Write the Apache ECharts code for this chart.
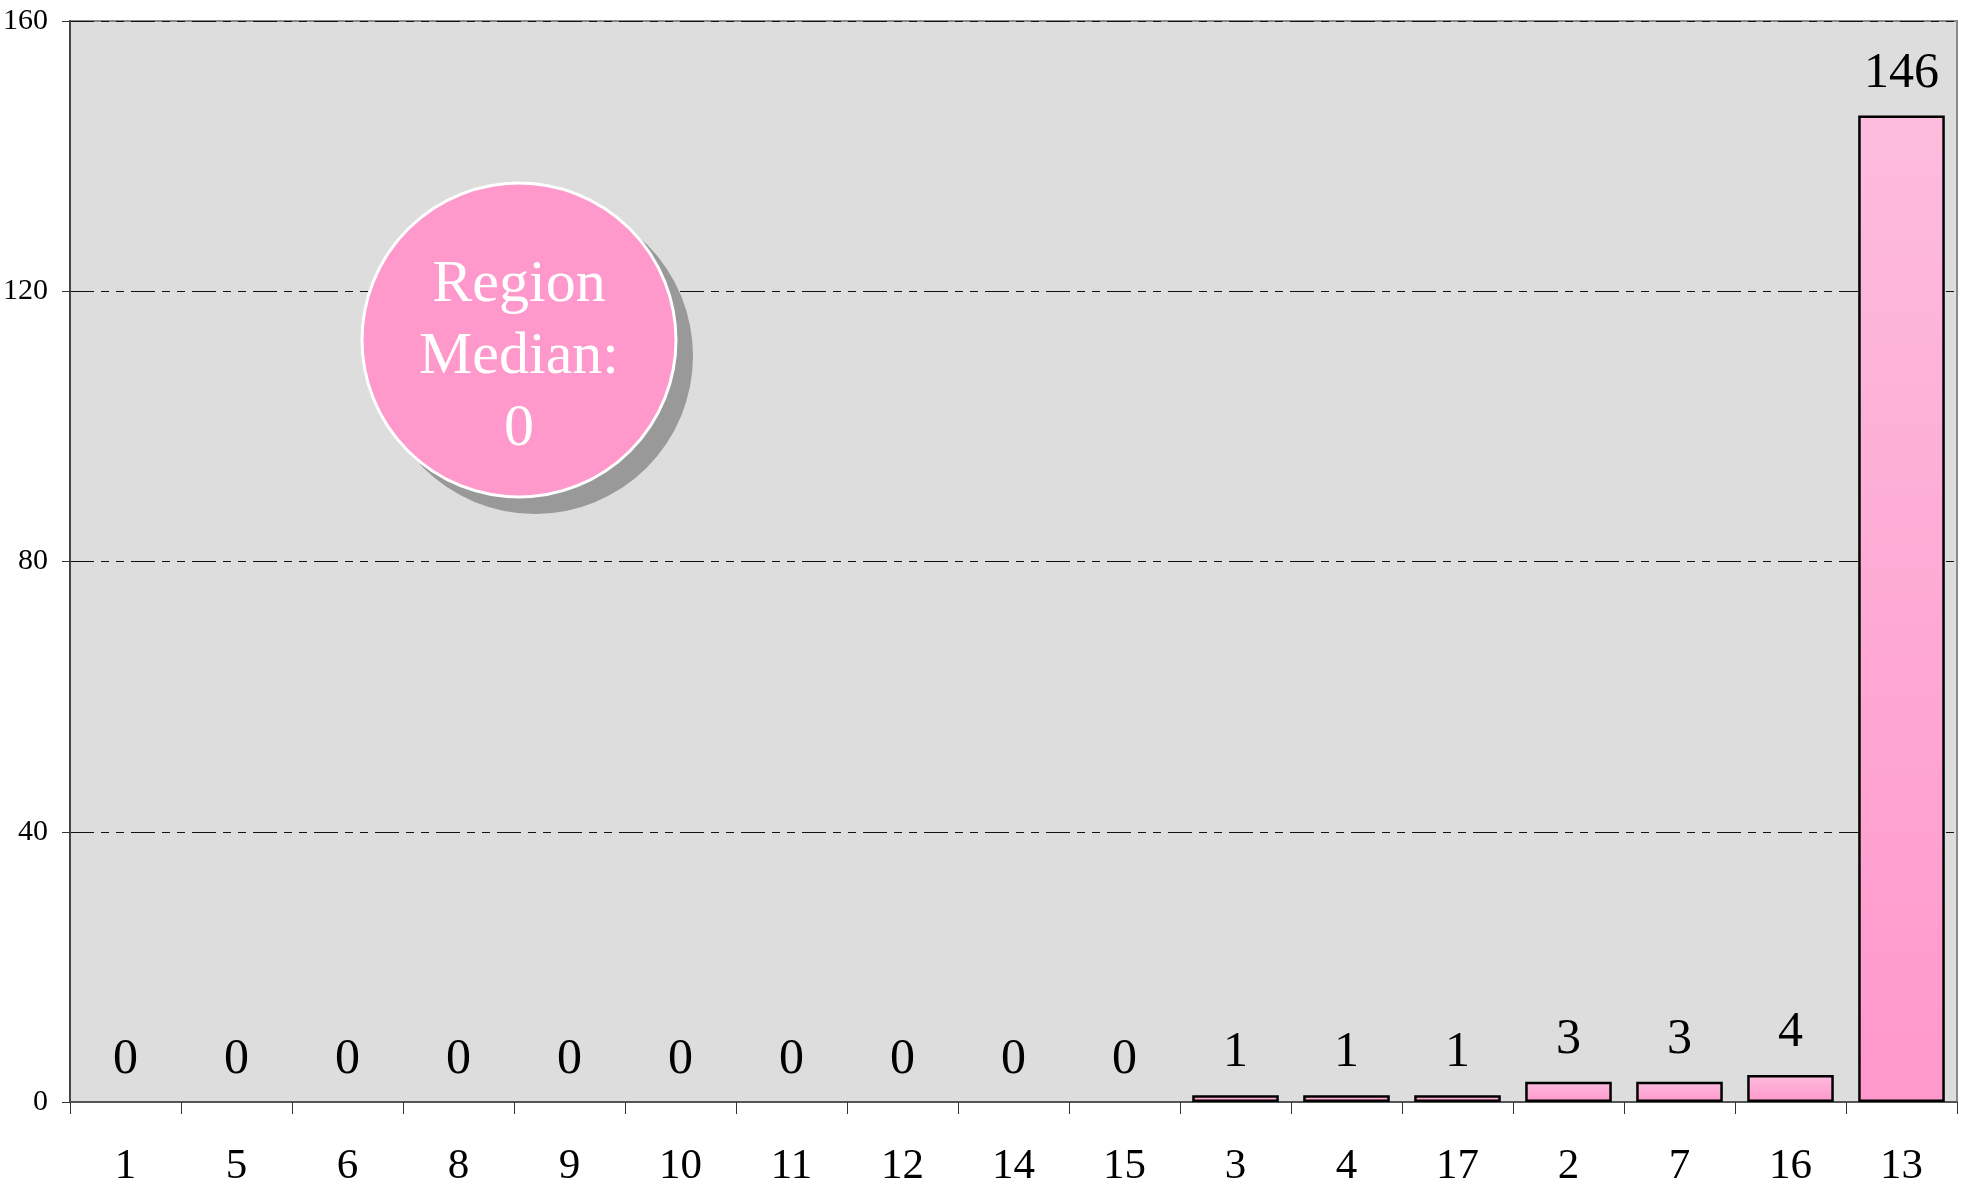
<!DOCTYPE html>
<html>
<head>
<meta charset="utf-8">
<script src="https://cdn.jsdelivr.net/npm/echarts@6/dist/echarts.min.js"></script>
<style>
    html, body { margin: 0; padding: 0; background: #fff; }
    #chart { width: 1969px; height: 1185px; }
</style>
</head>
<body>
<div id="chart"></div>
<script>
// 类别（按数值排序后的区域编号）
var categories = ["1", "5", "6", "8", "9", "10", "11", "12", "14", "15", "3", "4", "17", "2", "7", "16", "13"];
// 每个区域的数值
var values = [0, 0, 0, 0, 0, 0, 0, 0, 0, 0, 1, 1, 1, 3, 3, 4, 146];
// y 轴刻度
var yMin = 0;
var yMax = 160;
var yStep = 40;

// 中位数
function median(arr) {
    var s = arr.slice().sort(function(a, b) { return a - b; });
    var m = Math.floor(s.length / 2);
    return s.length % 2 ? s[m] : (s[m - 1] + s[m]) / 2;
}

var serif = "'Liberation Serif', 'DejaVu Serif', serif";
var myChart = echarts.init(document.getElementById("chart"));

// 数值为 0 的柱子不画边框
var barData = values.map(function(v) {
    return v === 0 ? { value: v, itemStyle: { borderWidth: 0 } } : v;
});

myChart.setOption({
    animation: false,
    backgroundColor: "#fff",
    grid: {
        left: 70,
        right: 12,
        top: 21,
        bottom: 83,
        outerBoundsMode: "none",
        show: true,
        backgroundColor: "#dddddd",
        borderColor: "#8a8a8a",
        borderWidth: 2
    },
    xAxis: {
        type: "category",
        data: categories,
        axisLine: { lineStyle: { color: "#555", width: 2 } },
        axisTick: { show: true, length: 12, lineStyle: { color: "#333", width: 1 } },
        axisLabel: {
            fontFamily: serif,
            fontSize: 43,
            color: "#000",
            margin: 43
        }
    },
    yAxis: {
        type: "value",
        min: yMin,
        max: yMax,
        interval: yStep,
        axisLine: { show: true, lineStyle: { color: "#444", width: 2 } },
        axisTick: { show: true, length: 8, lineStyle: { color: "#333", width: 1 } },
        axisLabel: {
            fontFamily: serif,
            fontSize: 30,
            color: "#000",
            margin: 22
        },
        splitLine: {
            lineStyle: {
                color: "#111",
                width: 1,
                type: [24, 7, 8, 7, 8, 7]
            }
        }
    },
    series: [
        {
            type: "bar",
            data: barData,
            barCategoryGap: "22%",
            itemStyle: {
                color: {
                    type: "linear",
                    x: 0, y: 0, x2: 0, y2: 1,
                    colorStops: [
                        { offset: 0, color: "#fdbcdd" },
                        { offset: 1, color: "#ff98cb" }
                    ]
                },
                borderColor: "#000",
                borderWidth: 2.5
            },
            label: {
                show: true,
                position: "top",
                distance: 17,
                fontFamily: serif,
                fontSize: 50,
                color: "#000"
            }
        }
    ],
    graphic: [
        {
            type: "circle",
            shape: { cx: 535, cy: 356, r: 158 },
            style: { fill: "#999999" },
            z: 100
        },
        {
            type: "circle",
            shape: { cx: 519, cy: 340, r: 157 },
            style: { fill: "#ff99cc", stroke: "#ffffff", lineWidth: 3 },
            z: 101
        },
        {
            type: "text",
            x: 519,
            y: 357,
            z: 102,
            style: {
                text: "Region\nMedian:\n" + median(values),
                fill: "#fff",
                font: "60px " + serif,
                lineHeight: 72,
                align: "center",
                verticalAlign: "middle"
            }
        }
    ]
});
</script>
</body>
</html>
